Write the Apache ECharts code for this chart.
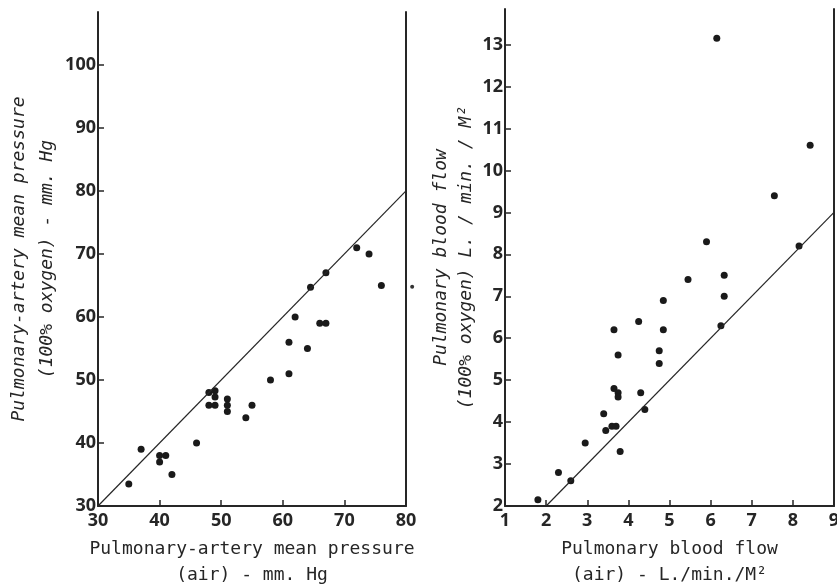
<!DOCTYPE html>
<html>
<head>
<meta charset="utf-8">
<script src="https://cdn.jsdelivr.net/npm/echarts@6/dist/echarts.min.js"></script>
<style>
html,body{margin:0;padding:0;background:#fff;}
#chart{width:837px;height:585px;}
</style>
</head>
<body>
<div id="chart"></div>
<script>
// ---- Left panel: pulmonary-artery mean pressure (mm Hg) ----
var pressureAir = [35, 37, 40, 41, 40, 42, 46, 48, 49, 49, 48, 49, 51, 51, 51, 54, 55, 58, 61, 61, 62, 64, 64.5, 66, 67, 67, 72, 74, 76];
var pressureO2  = [33.5, 39, 38, 38, 37, 35, 40, 48, 48.3, 47.3, 46, 46, 47, 46, 45, 44, 46, 50, 51, 56, 60, 55, 64.7, 59, 59, 67, 71, 70, 65];
var pressureStrayAir = [81];
var pressureStrayO2  = [64.8];
var pressureIdentity = [30, 80];
var pressureXTicks = [30, 40, 50, 60, 70, 80];
var pressureYTicks = [30, 40, 50, 60, 70, 80, 90, 100];

// ---- Right panel: pulmonary blood flow (L/min/M2) ----
var flowAir = [1.8, 2.3, 2.6, 2.95, 3.4, 3.45, 3.6, 3.7, 3.8, 3.65, 3.75, 3.75, 4.3, 4.4, 3.75, 3.65, 4.25, 4.75, 4.75, 4.85, 4.85, 5.45, 6.25, 6.33, 6.33, 6.15, 8.42, 7.55, 5.9, 8.15];
var flowO2  = [2.15, 2.8, 2.6, 3.5, 4.2, 3.8, 3.9, 3.9, 3.3, 4.8, 4.7, 4.6, 4.7, 4.3, 5.6, 6.2, 6.4, 5.4, 5.7, 6.2, 6.9, 7.4, 6.3, 7.0, 7.5, 13.15, 10.6, 9.4, 8.3, 8.2];
var flowIdentity = [2, 9];
var flowXTicks = [1, 2, 3, 4, 5, 6, 7, 8, 9];
var flowYTicks = [2, 3, 4, 5, 6, 7, 8, 9, 10, 11, 12, 13];

function pairs(xs, ys) { return xs.map(function (x, i) { return [x, ys[i]]; }); }

var ink = '#262626';
var labelFont = { color: ink, fontFamily: 'Noto Sans', fontSize: 18, fontWeight: 'bold' };
var nameFont = { color: ink, fontFamily: 'DejaVu Sans Mono', fontSize: 18 };

function valueAxis(opts) {
  var base = {
    type: 'value',
    splitLine: { show: false },
    axisLine: { show: true, onZero: false, lineStyle: { color: ink, width: 2 } },
    axisTick: { show: true, inside: true, length: 6, lineStyle: { color: ink, width: 1.5 }, customValues: opts.ticks },
    axisLabel: Object.assign({ margin: opts.margin, customValues: opts.ticks, showMaxLabel: true }, labelFont)
  };
  return Object.assign(base, opts.extra);
}

function borderAxis(gridIndex, min, max) {
  return {
    type: 'value', gridIndex: gridIndex, position: 'right', min: min, max: max,
    splitLine: { show: false },
    axisLine: { show: true, onZero: false, lineStyle: { color: ink, width: 2 } },
    axisTick: { show: false }, axisLabel: { show: false }
  };
}

var option = {
  backgroundColor: '#fff',
  animation: false,
  grid: [
    { left: 98, width: 308, top: 12, bottom: 79, containLabel: false, outerBoundsMode: 'none' },
    { left: 505, right: 3, top: 9, bottom: 79, containLabel: false, outerBoundsMode: 'none' }
  ],
  xAxis: [
    valueAxis({ ticks: pressureXTicks, margin: 6, extra: {
      gridIndex: 0, min: 30, max: 80, interval: 10,
      name: 'Pulmonary-artery mean pressure\n(air) - mm. Hg',
      nameLocation: 'middle', nameGap: 30,
      nameTextStyle: Object.assign({ lineHeight: 26 }, nameFont)
    }}),
    valueAxis({ ticks: flowXTicks, margin: 6, extra: {
      gridIndex: 1, min: 1, max: 9, interval: 1,
      name: 'Pulmonary blood flow\n(air) - L./min./M²',
      nameLocation: 'middle', nameGap: 30,
      nameTextStyle: Object.assign({ lineHeight: 26 }, nameFont)
    }})
  ],
  yAxis: [
    valueAxis({ ticks: pressureYTicks, margin: 2, extra: {
      gridIndex: 0, min: 30, max: 108.4, interval: 10,
      name: 'Pulmonary-artery mean pressure\n(100% oxygen) - mm. Hg',
      nameLocation: 'middle', nameGap: 25,
      nameTextStyle: Object.assign({ lineHeight: 28, fontStyle: 'italic' }, nameFont)
    }}),
    valueAxis({ ticks: flowYTicks, margin: 2, extra: {
      gridIndex: 1, min: 2, max: 13.85, interval: 1,
      name: 'Pulmonary blood flow\n(100% oxygen) L. / min. / M²',
      nameLocation: 'middle', nameGap: 24,
      nameTextStyle: Object.assign({ lineHeight: 25, fontStyle: 'italic' }, nameFont)
    }}),
    borderAxis(0, 30, 108.4),
    borderAxis(1, 2, 13.85)
  ],
  series: [
    {
      type: 'line', xAxisIndex: 0, yAxisIndex: 0,
      data: pairs(pressureIdentity, pressureIdentity),
      showSymbol: false, lineStyle: { color: ink, width: 1.2 }, silent: true
    },
    {
      type: 'scatter', xAxisIndex: 0, yAxisIndex: 0,
      data: pairs(pressureAir, pressureO2),
      symbolSize: 7, itemStyle: { color: '#1a1a1a', opacity: 1 }
    },
    {
      type: 'scatter', xAxisIndex: 0, yAxisIndex: 0, clip: false,
      data: pairs(pressureStrayAir, pressureStrayO2),
      symbolSize: 4, itemStyle: { color: '#333', opacity: 1 }
    },
    {
      type: 'line', xAxisIndex: 1, yAxisIndex: 1,
      data: pairs(flowIdentity, flowIdentity),
      showSymbol: false, lineStyle: { color: ink, width: 1.2 }, silent: true
    },
    {
      type: 'scatter', xAxisIndex: 1, yAxisIndex: 1,
      data: pairs(flowAir, flowO2),
      symbolSize: 7, itemStyle: { color: '#1a1a1a', opacity: 1 }
    }
  ]
};

var chart = echarts.init(document.getElementById('chart'), null, { renderer: 'canvas' });
chart.setOption(option);
</script>
</body>
</html>
